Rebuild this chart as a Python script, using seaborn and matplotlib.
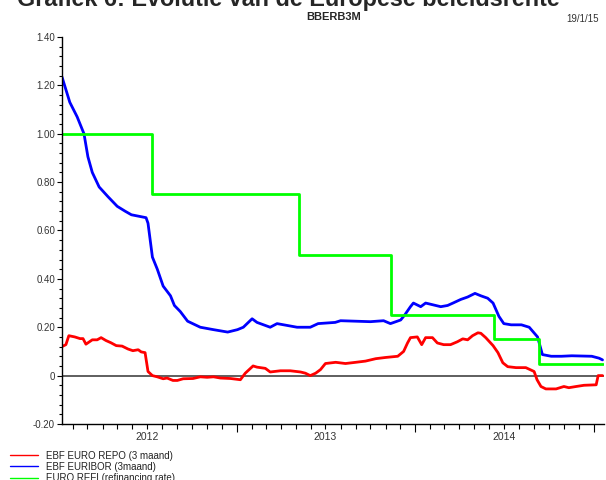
import pandas as pd
import matplotlib
matplotlib.use("Agg")
import matplotlib.pyplot as plt
import matplotlib.dates as mdates
from matplotlib.ticker import MultipleLocator, FuncFormatter
import seaborn as sns

# --- data ---
repo_dates = [
    "2012-01-09", "2012-01-17", "2012-01-23", "2012-02-04", "2012-02-15", "2012-02-21",
    "2012-02-27", "2012-03-11", "2012-03-21", "2012-03-29", "2012-04-08", "2012-04-18",
    "2012-04-29", "2012-05-11", "2012-05-23", "2012-06-02", "2012-06-13", "2012-06-19",
    "2012-06-27", "2012-07-03", "2012-07-12", "2012-07-22", "2012-08-03", "2012-08-11",
    "2012-08-23", "2012-09-01", "2012-09-13", "2012-10-03", "2012-10-18", "2012-11-01",
    "2012-11-14", "2012-11-28", "2012-12-19", "2013-01-08", "2013-01-18", "2013-01-26",
    "2013-02-03", "2013-02-11", "2013-02-28", "2013-03-10", "2013-03-31", "2013-04-20",
    "2013-05-11", "2013-05-21", "2013-05-31", "2013-06-11", "2013-06-21", "2013-07-01",
    "2013-07-22", "2013-08-11", "2013-09-01", "2013-09-21", "2013-10-12", "2013-11-01",
    "2013-11-26", "2013-12-08", "2013-12-16", "2013-12-22", "2014-01-05", "2014-01-14",
    "2014-01-22", "2014-02-05", "2014-02-15", "2014-02-28", "2014-03-14", "2014-03-28",
    "2014-04-08", "2014-04-18", "2014-04-28", "2014-05-09", "2014-05-15", "2014-05-25",
    "2014-06-09", "2014-06-19", "2014-06-29", "2014-07-09", "2014-07-26", "2014-08-15",
    "2014-09-01", "2014-09-07", "2014-09-15", "2014-09-25", "2014-10-16", "2014-11-01",
    "2014-11-11", "2014-11-26", "2014-12-12", "2015-01-06", "2015-01-10", "2015-01-19",
]
repo_values = [
    0.120, 0.128, 0.165, 0.160, 0.153, 0.153,
    0.130, 0.148, 0.148, 0.157, 0.145, 0.136,
    0.124, 0.122, 0.110, 0.103, 0.107, 0.098,
    0.095, 0.017, 0.000, -0.005, -0.013, -0.010,
    -0.020, -0.020, -0.013, -0.012, -0.005, -0.007,
    -0.005, -0.010, -0.012, -0.017, 0.010, 0.025,
    0.040, 0.035, 0.030, 0.015, 0.020, 0.020,
    0.015, 0.010, 0.000, 0.010, 0.025, 0.050,
    0.055, 0.050, 0.055, 0.060, 0.070, 0.075,
    0.080, 0.100, 0.135, 0.157, 0.160, 0.128,
    0.157, 0.157, 0.135, 0.128, 0.128, 0.140,
    0.152, 0.148, 0.165, 0.177, 0.175, 0.157,
    0.124, 0.095, 0.053, 0.037, 0.033, 0.033,
    0.017, -0.017, -0.045, -0.055, -0.055, -0.045,
    -0.050, -0.045, -0.040, -0.038, 0.000, 0.000,
]

euribor_dates = [
    "2012-01-09", "2012-01-25", "2012-02-09", "2012-02-23", "2012-03-02", "2012-03-11",
    "2012-03-25", "2012-04-12", "2012-05-01", "2012-05-17", "2012-05-30", "2012-06-19",
    "2012-06-29", "2012-07-03", "2012-07-12", "2012-07-22", "2012-08-03", "2012-08-18",
    "2012-08-26", "2012-09-07", "2012-09-22", "2012-10-18", "2012-11-14", "2012-12-13",
    "2013-01-02", "2013-01-14", "2013-02-01", "2013-02-11", "2013-03-10", "2013-03-24",
    "2013-05-04", "2013-05-31", "2013-06-16", "2013-07-21", "2013-08-01", "2013-10-01",
    "2013-10-28", "2013-11-11", "2013-12-02", "2013-12-10", "2013-12-22", "2013-12-28",
    "2014-01-12", "2014-01-22", "2014-02-22", "2014-03-08", "2014-03-19", "2014-04-04",
    "2014-04-18", "2014-05-03", "2014-05-15", "2014-05-29", "2014-06-09", "2014-06-21",
    "2014-07-01", "2014-07-16", "2014-08-06", "2014-08-22", "2014-09-08", "2014-09-18",
    "2014-10-06", "2014-10-27", "2014-11-17", "2014-12-28", "2015-01-12", "2015-01-19",
]
euribor_values = [
    1.235, 1.130, 1.070, 1.000, 0.905, 0.840,
    0.780, 0.740, 0.700, 0.680, 0.665, 0.657,
    0.653, 0.630, 0.490, 0.440, 0.370, 0.330,
    0.290, 0.265, 0.225, 0.200, 0.190, 0.180,
    0.190, 0.200, 0.235, 0.220, 0.200, 0.215,
    0.200, 0.200, 0.215, 0.220, 0.227, 0.223,
    0.227, 0.215, 0.230, 0.250, 0.285, 0.300,
    0.285, 0.300, 0.285, 0.290, 0.300, 0.315,
    0.325, 0.340, 0.330, 0.320, 0.300, 0.245,
    0.215, 0.210, 0.210, 0.200, 0.160, 0.087,
    0.080, 0.080, 0.082, 0.080, 0.072, 0.065,
]

refi_dates = ["2012-01-09", "2012-07-11", "2013-05-08", "2013-11-13",
              "2014-06-11", "2014-09-10", "2015-01-19"]
refi_values = [1.00, 0.75, 0.50, 0.25, 0.15, 0.05, 0.05]

labels = ["EBF EURO REPO (3 maand)", "EBF EURIBOR (3maand)", "EURO REFI (refinancing rate)"]
colors = ["#ff0000", "#0000ff", "#00ff00"]

repo = pd.DataFrame({"date": pd.to_datetime(repo_dates), "rate": repo_values})
euribor = pd.DataFrame({"date": pd.to_datetime(euribor_dates), "rate": euribor_values})
refi = pd.DataFrame({"date": pd.to_datetime(refi_dates), "rate": refi_values})

sns.set_style("ticks")
plt.rcParams["font.family"] = ["Liberation Sans", "DejaVu Sans"]

fig = plt.figure(figsize=(6.06, 4.80), dpi=100)
ax = fig.add_axes([0.1023, 0.1167, 0.8944, 0.8062])

sns.lineplot(data=repo, x="date", y="rate", ax=ax, color=colors[0], lw=2.0, label=labels[0])
sns.lineplot(data=euribor, x="date", y="rate", ax=ax, color=colors[1], lw=2.0, label=labels[1])
sns.lineplot(data=refi, x="date", y="rate", ax=ax, color=colors[2], lw=2.0,
             drawstyle="steps-post", label=labels[2])
ax.axhline(0, color="#333333", lw=1.1, zorder=1)

ax.set_xlim(pd.Timestamp("2012-01-09"), pd.Timestamp("2015-01-22"))
ax.set_ylim(-0.2, 1.4)
ax.set_xlabel("")
ax.set_ylabel("")

for side in ["top", "right"]:
    ax.spines[side].set_visible(False)
for side in ["left", "bottom"]:
    ax.spines[side].set_color("black")
    ax.spines[side].set_linewidth(1.0)

# y axis: 0.20 steps, minor 0.04
ax.yaxis.set_major_locator(MultipleLocator(0.2))
ax.yaxis.set_minor_locator(MultipleLocator(0.04))
ax.yaxis.set_major_formatter(FuncFormatter(lambda v, p: "0" if abs(v) < 1e-9 else f"{v:.2f}"))
ax.tick_params(axis="y", which="major", length=3.5, width=0.8, pad=1.5,
               labelsize=7, labelcolor="#333333", color="black")
ax.tick_params(axis="y", which="minor", length=2.2, width=0.8, color="black")

# x axis: long ticks at year start, monthly short ticks, year label mid-year
ax.xaxis.set_major_locator(mdates.YearLocator())
ax.xaxis.set_major_formatter(FuncFormatter(lambda v, p: ""))
ax.xaxis.set_minor_locator(mdates.MonthLocator())
ax.xaxis.set_minor_formatter(FuncFormatter(
    lambda v, p: str(mdates.num2date(v).year) if mdates.num2date(v).month == 7 else ""))
ax.tick_params(axis="x", which="major", length=6, width=0.8, color="black")
ax.tick_params(axis="x", which="minor", length=3.5, width=0.8, pad=2,
               labelsize=7.5, labelcolor="#333333", color="black")
ax.grid(False)

leg = ax.legend(loc="upper left", bbox_to_anchor=(0.016, 0.061),
                bbox_transform=fig.transFigure, frameon=False, fontsize=7,
                borderpad=0, borderaxespad=0, handlelength=2.9, handletextpad=0.8,
                labelspacing=0.12)
for line in leg.get_lines():
    line.set_linewidth(1.0)
for t in leg.get_texts():
    t.set_color("#222222")

fig.text(0.55, 0.964, "BBERB3M", ha="center", va="center", fontsize=8, fontweight="bold")
fig.text(0.962, 0.961, "19/1/15", ha="center", va="center", fontsize=7, color="#333333")
# main title sits partly above the figure edge, as in the reference
fig.text(0.476, 0.987, "Grafiek 6: Evolutie van de Europese beleidsrente",
         ha="center", va="baseline", fontsize=16.8, fontweight="bold")

fig.savefig("out.png", dpi=100)
